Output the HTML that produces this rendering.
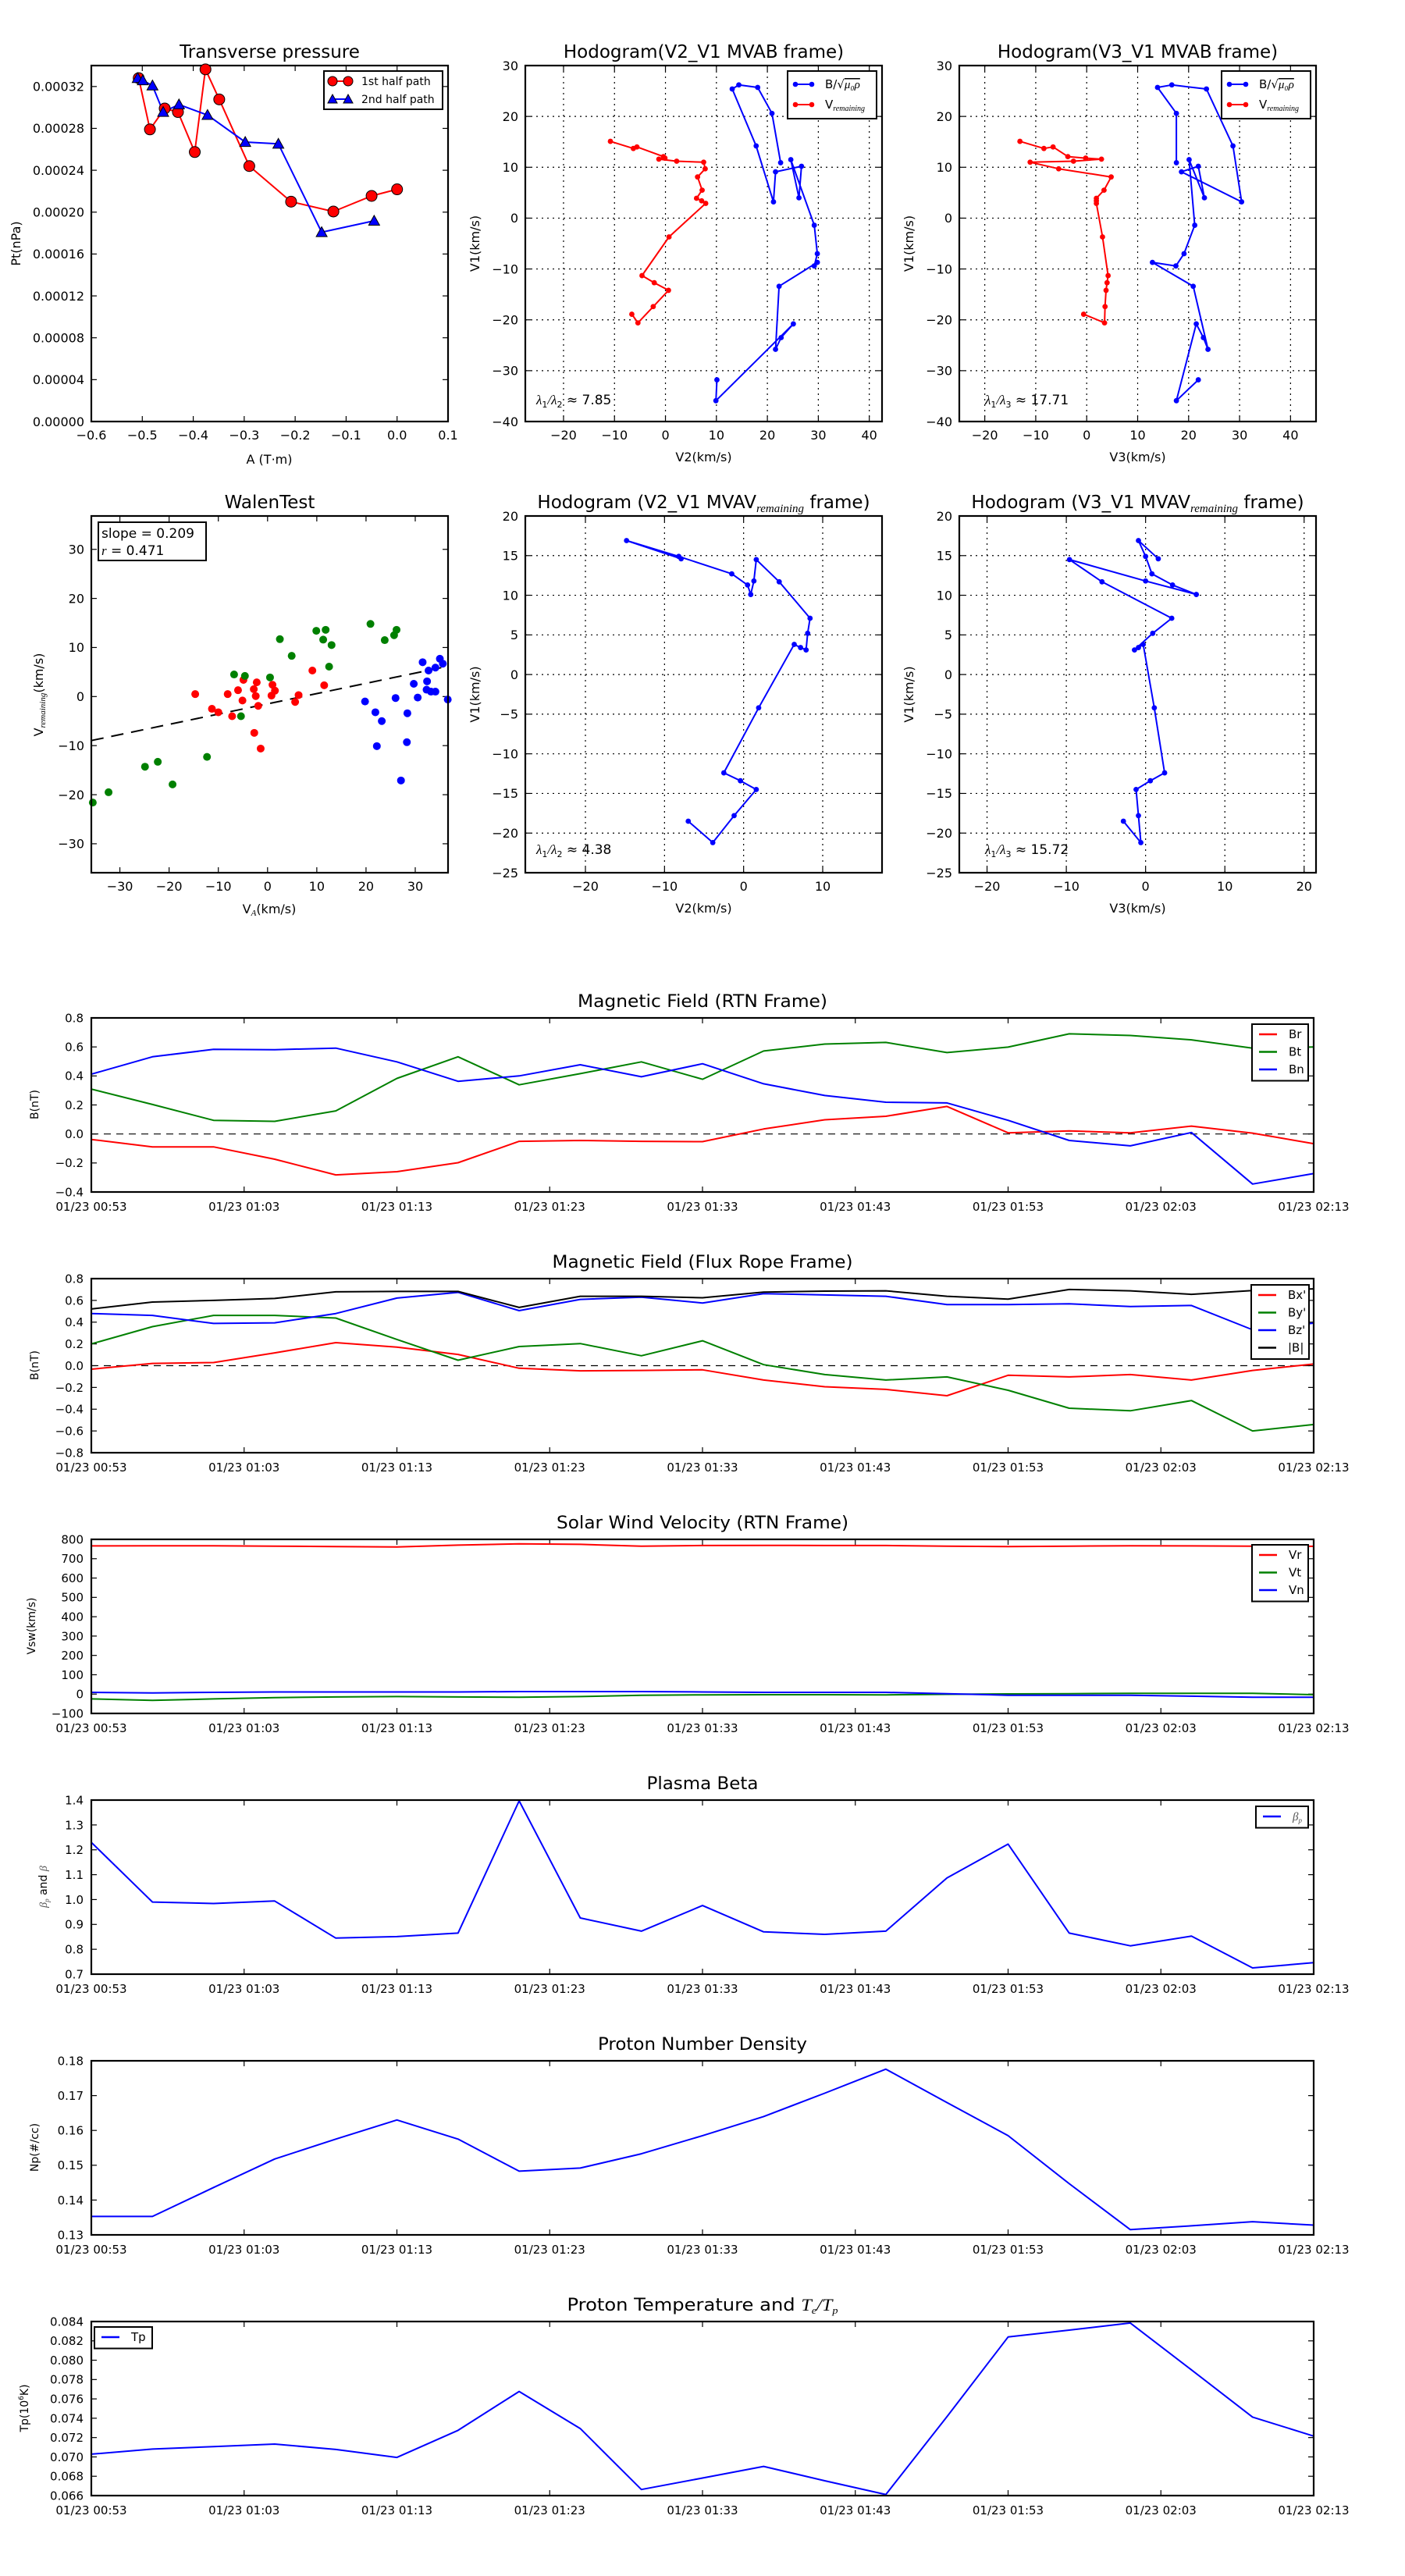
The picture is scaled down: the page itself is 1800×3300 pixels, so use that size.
<!DOCTYPE html>
<html><head><meta charset="utf-8">
<style>
html,body{margin:0;padding:0;background:#fff;}
svg{display:block;font-family:"DejaVu Sans","Liberation Sans",sans-serif;}
</style></head>
<body>
<svg id="fig" width="1800" height="3300" viewBox="0 0 1800 3300" xmlns="http://www.w3.org/2000/svg">
<rect x="0" y="0" width="1800" height="3300" fill="#fff"/>
</svg>
<script>
// ---------- DATA ----------
const ptRedA = [-0.507,-0.485,-0.456,-0.430,-0.397,-0.376,-0.349,-0.290,-0.208,-0.125,-0.050,0.000];
const ptRedP = [0.000328,0.000279,0.000299,0.0002956,0.0002574,0.0003364,0.0003077,0.000244,0.000210,0.0002006,0.0002155,0.0002218];
const ptBlueA = [-0.509,-0.499,-0.480,-0.459,-0.428,-0.372,-0.298,-0.233,-0.148,-0.045];
const ptBlueP = [0.000328,0.0003258,0.0003209,0.0002956,0.0003028,0.0002927,0.0002669,0.0002652,0.0001808,0.0001917];
const ptXTicks = [-0.6,-0.5,-0.4,-0.3,-0.2,-0.1,0.0,0.1];
const ptXLabels = ["−0.6","−0.5","−0.4","−0.3","−0.2","−0.1","0.0","0.1"];
const ptYTicks = [0,0.00004,0.00008,0.00012,0.00016,0.00020,0.00024,0.00028,0.00032];
const ptYLabels = ["0.00000","0.00004","0.00008","0.00012","0.00016","0.00020","0.00024","0.00028","0.00032"];

// MVAB hodogram (time-ordered)
const bV1 = [-31.8,-35.9,-20.8,-23.5,-25.8,-13.4,-8.7,-9.4,-7.0,-1.4,11.5,4.0,10.2,9.1,3.2,14.2,25.4,26.2,25.7,20.6,10.9];
const bV2 = [10.1,9.9,25.1,22.7,21.6,22.3,29.8,29.2,29.8,29.2,24.6,26.2,26.7,21.6,21.2,17.8,13.1,14.4,18.1,20.9,22.6];
const bV3 = [21.9,17.6,21.5,22.9,23.8,20.9,12.9,17.5,19.1,21.2,20.1,23.1,21.9,18.6,30.4,28.7,23.5,16.7,13.9,17.6,17.6];
const vV1 = [-18.9,-20.6,-17.4,-14.2,-12.7,-11.3,-3.7,2.9,3.4,3.9,5.5,8.1,9.7,11.0,11.2,11.6,11.8,12.1,14.0,13.7,15.1];
const vV2 = [-6.6,-5.4,-2.4,0.6,-2.2,-4.6,0.7,7.9,7.1,6.1,7.2,6.3,7.8,7.5,2.2,-1.3,-0.1,-0.4,-5.6,-6.3,-10.8];
const vV3 = [-0.6,3.5,3.6,3.8,4.0,4.2,3.1,1.9,1.9,1.9,3.4,4.8,-5.5,-11.1,-2.6,2.9,-0.2,-3.7,-6.6,-8.4,-13.1];
const hodoXTicks = [-20,-10,0,10,20,30,40];
const hodoYTicks = [-40,-30,-20,-10,0,10,20,30];

// MVAV hodogram
const mV1 = [-18.5,-21.2,-17.8,-14.5,-13.4,-12.4,-4.2,3.8,3.4,3.1,5.2,7.1,11.7,14.5,11.8,10.1,11.3,12.7,14.9,16.9,14.6];
const mV2 = [-7.0,-3.9,-1.2,1.6,-0.4,-2.5,1.9,6.4,7.2,7.9,8.1,8.4,4.5,1.6,1.3,0.9,0.5,-1.5,-8.2,-14.8,-7.9];
const mV3 = [-2.8,-0.6,-0.9,-1.2,0.6,2.4,1.1,-0.3,-0.9,-1.4,0.9,3.3,-5.5,-9.6,0.0,6.4,3.4,0.8,0.0,-0.9,1.6];
const mvXTicks2 = [-20,-10,0,10];
const mvXTicks3 = [-20,-10,0,10,20];
const mvYTicks = [-25,-20,-15,-10,-5,0,5,10,15,20];

// Walen test
const wRedX = [-14.7,-11.3,-10.0,-8.1,-7.2,-6.0,-5.1,-4.9,-2.8,-2.7,-2.4,-2.2,-1.9,-1.4,0.8,1.0,1.5,5.6,6.3,9.1,11.5];
const wRedY = [0.5,-2.5,-3.2,0.5,-4.0,1.3,-0.8,3.4,1.5,-7.4,0.1,2.9,-1.9,-10.6,0.2,2.4,1.2,-1.1,0.3,5.3,2.3];
const wGreenX = [-35.5,-32.3,-24.9,-22.3,-19.3,-12.3,-6.8,-5.4,-4.6,0.5,2.5,4.9,9.9,11.3,11.8,12.5,13.0,20.9,23.8,25.7,26.2];
const wGreenY = [-21.6,-19.5,-14.3,-13.3,-17.9,-12.3,4.5,-4.0,4.2,3.9,11.7,8.3,13.4,11.6,13.6,6.1,10.5,14.8,11.5,12.5,13.6];
const wBlueX = [19.8,21.9,22.2,23.2,26.0,27.1,28.3,28.4,29.7,30.5,31.5,32.4,32.3,32.7,33.2,34.1,34.1,35.0,35.6,36.6];
const wBlueY = [-1.0,-3.2,-10.1,-5.0,-0.3,-17.1,-9.3,-3.4,2.6,-0.2,7.0,3.1,1.4,5.3,1.0,5.9,1.0,7.7,6.7,-0.6];
const wSlope = [0.209];
const wIntercept = [-1.48];
const wXTicks = [-30,-20,-10,0,10,20,30];
const wYTicks = [-30,-20,-10,0,10,20,30];

// Time series (minutes since 00:53)
const tMinutes = [0,4,8,12,16,20,24,28,32,36,40,44,48,52,56,60,64,68,72,76,80];
const timeTicks = [0,10,20,30,40,50,60,70,80];
const timeLabels = ["01/23 00:53","01/23 01:03","01/23 01:13","01/23 01:23","01/23 01:33","01/23 01:43","01/23 01:53","01/23 02:03","01/23 02:13"];
const Br = [-0.038,-0.089,-0.089,-0.174,-0.282,-0.260,-0.198,-0.051,-0.045,-0.051,-0.053,0.034,0.098,0.122,0.190,0.008,0.021,0.008,0.054,0.006,-0.067];
const Bt = [0.309,0.203,0.094,0.087,0.159,0.383,0.532,0.339,0.416,0.497,0.377,0.572,0.620,0.631,0.561,0.599,0.690,0.679,0.649,0.592,0.600];
const Bn = [0.412,0.532,0.583,0.581,0.592,0.497,0.363,0.400,0.477,0.394,0.484,0.346,0.265,0.219,0.214,0.094,-0.045,-0.082,0.010,-0.345,-0.273];
const rtnYTicks = [-0.4,-0.2,0.0,0.2,0.4,0.6,0.8];
const rtnYLabels = ["−0.4","−0.2","0.0","0.2","0.4","0.6","0.8"];
const Bxp = [-0.032,0.021,0.029,0.118,0.212,0.171,0.103,-0.024,-0.047,-0.044,-0.038,-0.132,-0.194,-0.218,-0.276,-0.088,-0.103,-0.082,-0.132,-0.044,0.015];
const Byp = [0.200,0.359,0.462,0.462,0.438,0.241,0.050,0.176,0.203,0.091,0.229,0.009,-0.082,-0.132,-0.103,-0.226,-0.391,-0.415,-0.321,-0.600,-0.541];
const Bzp = [0.479,0.462,0.388,0.394,0.479,0.621,0.674,0.506,0.609,0.629,0.576,0.662,0.650,0.638,0.562,0.562,0.568,0.544,0.553,0.330,0.391];
const Bmag = [0.521,0.585,0.600,0.618,0.679,0.682,0.682,0.535,0.638,0.638,0.624,0.676,0.685,0.688,0.638,0.612,0.700,0.688,0.656,0.691,0.706];
const frYTicks = [-0.8,-0.6,-0.4,-0.2,0.0,0.2,0.4,0.6,0.8];
const frYLabels = ["−0.8","−0.6","−0.4","−0.2","0.0","0.2","0.4","0.6","0.8"];
const Vr = [766,767,767,765,763,761,770,777,774,765,768,769,768,768,765,763,765,767,766,765,764];
const Vt = [-25,-32,-25,-18,-15,-13,-15,-16,-13,-6,-4,-3,-3,-4,-1,1,2,4,4,4,-3];
const Vn = [9,6,9,11,11,11,11,13,13,13,11,9,9,9,2,-6,-6,-6,-11,-16,-16];
const vYTicks = [-100,0,100,200,300,400,500,600,700,800];
const vYLabels = ["−100","0","100","200","300","400","500","600","700","800"];
const beta = [1.230,0.990,0.984,0.994,0.845,0.851,0.865,1.397,0.926,0.873,0.976,0.870,0.860,0.873,1.087,1.223,0.865,0.814,0.853,0.725,0.746];
const bYTicks = [0.7,0.8,0.9,1.0,1.1,1.2,1.3,1.4];
const bYLabels = ["0.7","0.8","0.9","1.0","1.1","1.2","1.3","1.4"];
const Np = [0.1353,0.1353,0.1436,0.1518,0.1575,0.1630,0.1575,0.1483,0.1492,0.1533,0.1585,0.1640,0.1707,0.1776,0.1680,0.1585,0.1447,0.1315,0.1326,0.1338,0.1328];
const nYTicks = [0.13,0.14,0.15,0.16,0.17,0.18];
const nYLabels = ["0.13","0.14","0.15","0.16","0.17","0.18"];
const Tp = [0.07029,0.07081,0.07107,0.07133,0.07077,0.06995,0.07275,0.07677,0.07293,0.06663,0.06782,0.06902,0.06753,0.06611,0.07416,0.08240,0.08311,0.08385,0.07900,0.07412,0.07215];
const tYTicks = [0.066,0.068,0.070,0.072,0.074,0.076,0.078,0.080,0.082,0.084];
const tYLabels = ["0.066","0.068","0.070","0.072","0.074","0.076","0.078","0.080","0.082","0.084"];

// ---------- HELPERS ----------
const NS = 'http://www.w3.org/2000/svg';
const svg = document.getElementById('fig');
function mk(tag, attrs, parent) {
  const e = document.createElementNS(NS, tag);
  for (const k in attrs) e.setAttribute(k, attrs[k]);
  (parent || svg).appendChild(e);
  return e;
}
function text(str, x, y, size, anchor, parent) {
  const t = mk('text', {x: x, y: y, 'font-size': size, 'text-anchor': anchor || 'middle', fill: '#000'}, parent);
  t.textContent = str;
  return t;
}
function scale(d0, d1, r0, r1) { return v => r0 + (v - d0) / (d1 - d0) * (r1 - r0); }

function makeAxes(name, L, R, T, B, x0, x1, y0, y1) {
  const g = mk('g', {});
  
  
  return {g: g, L: L, R: R, T: T, B: B, sx: scale(x0, x1, L, R), sy: scale(y0, y1, B, T)};
}
function frame(ax) {
  const r = mk('rect', {x: ax.L, y: ax.T, width: ax.R - ax.L, height: ax.B - ax.T, fill: 'none', stroke: '#000', 'stroke-width': 2.2}, ax.g);
  
  
}
function xTicks(ax, vals, labels, size, grid, dy) {
  vals.forEach((v, i) => {
    const x = ax.sx(v);
    if (grid) {
      const gl = mk('line', {x1: x, x2: x, y1: ax.T, y2: ax.B, stroke: '#000', 'stroke-width': 1.2, 'stroke-dasharray': '2,5'}, ax.g);
      
      
    }
    const t1 = mk('line', {x1: x, x2: x, y1: ax.B, y2: ax.B - 7, stroke: '#000', 'stroke-width': 1.2}, ax.g);
    
    
    const t2 = mk('line', {x1: x, x2: x, y1: ax.T, y2: ax.T + 7, stroke: '#000', 'stroke-width': 1.2}, ax.g);
    
    
    const lb = text(labels[i], x, ax.B + dy, size, 'middle', ax.g);
    
    
  });
}
function yTicks(ax, vals, labels, size, grid, dx) {
  vals.forEach((v, i) => {
    const y = ax.sy(v);
    if (grid) {
      const gl = mk('line', {x1: ax.L, x2: ax.R, y1: y, y2: y, stroke: '#000', 'stroke-width': 1.2, 'stroke-dasharray': '2,5'}, ax.g);
      
      
    }
    const t1 = mk('line', {x1: ax.L, x2: ax.L + 7, y1: y, y2: y, stroke: '#000', 'stroke-width': 1.2}, ax.g);
    
    
    const t2 = mk('line', {x1: ax.R, x2: ax.R - 7, y1: y, y2: y, stroke: '#000', 'stroke-width': 1.2}, ax.g);
    
    
    const lb = text(labels[i], ax.L - dx, y + size * 0.36, size, 'end', ax.g);
    
    
  });
}
function polyline(ax, xs, ys, color, w) {
  const pts = xs.map((x, i) => ax.sx(x).toFixed(1) + ',' + ax.sy(ys[i]).toFixed(1)).join(' ');
  return mk('polyline', {points: pts, fill: 'none', stroke: color, 'stroke-width': w, 'stroke-linejoin': 'round'}, ax.g);
}
function dots(ax, xs, ys, color, r, stroke) {
  const g = mk('g', {}, ax.g);
  xs.forEach((x, i) => {
    const c = mk('circle', {cx: ax.sx(x), cy: ax.sy(ys[i]), r: r, fill: color, stroke: stroke || 'none', 'stroke-width': 1}, g);
    
    
  });
  return g;
}
function tris(ax, xs, ys, color, s) {
  const g = mk('g', {}, ax.g);
  xs.forEach((x, i) => {
    const cx = ax.sx(x), cy = ax.sy(ys[i]);
    const p = mk('polygon', {points: `${cx},${cy - s} ${cx - s},${cy + s * 0.8} ${cx + s},${cy + s * 0.8}`, fill: color, stroke: '#000', 'stroke-width': 1}, g);
    
    
  });
  return g;
}
function title(ax, str, y, size) {
  const t = text(str, (ax.L + ax.R) / 2, y, size, 'middle', ax.g);
  
  
  return t;
}

// ---------- PANEL 1: Transverse pressure ----------
(function(){
  const ax = makeAxes('transverse-pressure-chart', 117, 574, 84, 540, -0.6, 0.1, 0, 0.00034);
  frame(ax);
  xTicks(ax, ptXTicks, ptXLabels, 16, false, 23);
  yTicks(ax, ptYTicks, ptYLabels, 16, false, 9);
  const l1 = polyline(ax, ptRedA, ptRedP, '#ff0000', 2);
  
  
  const l2 = polyline(ax, ptBlueA, ptBlueP, '#0000ff', 2);
  
  
  const d1 = dots(ax, ptRedA, ptRedP, '#ff0000', 7, '#000');
  
  
  const d2 = tris(ax, ptBlueA, ptBlueP, '#0000ff', 7);
  
  
  title(ax, 'Transverse pressure', 74, 23);
  const xl = text('A (T·m)', 345, 594, 16, 'middle', ax.g);
  
  
  const yl = text('Pt(nPa)', 0, 0, 16, 'middle', ax.g);
  yl.setAttribute('transform', 'translate(26,312) rotate(-90)');
  
  
  const lg = mk('g', {}, ax.g);
  
  
  mk('rect', {x: 415, y: 91, width: 152, height: 49, fill: '#fff', stroke: '#000', 'stroke-width': 2}, lg);
  mk('line', {x1: 426, x2: 446, y1: 104, y2: 104, stroke: '#ff0000', 'stroke-width': 2}, lg);
  mk('circle', {cx: 426, cy: 104, r: 6, fill: '#ff0000', stroke: '#000'}, lg);
  mk('circle', {cx: 446, cy: 104, r: 6, fill: '#ff0000', stroke: '#000'}, lg);
  const e1 = text('1st half path', 463, 109, 14, 'start', lg);
  
  
  mk('line', {x1: 426, x2: 446, y1: 127, y2: 127, stroke: '#0000ff', 'stroke-width': 2}, lg);
  mk('polygon', {points: '426,121 420,132 432,132', fill: '#0000ff', stroke: '#000'}, lg);
  mk('polygon', {points: '446,121 440,132 452,132', fill: '#0000ff', stroke: '#000'}, lg);
  const e2 = text('2nd half path', 463, 132, 14, 'start', lg);
  
  
})();

// ---------- HODOGRAM HELPER ----------
function hodoLegend(ax, x, twoEntries) {
  const lg = mk('g', {}, ax.g);
  
  
  mk('rect', {x: x, y: 91, width: 114, height: 61, fill: '#fff', stroke: '#000', 'stroke-width': 2}, lg);
  mk('line', {x1: x + 10, x2: x + 31, y1: 108, y2: 108, stroke: '#0000ff', 'stroke-width': 2}, lg);
  mk('circle', {cx: x + 10, cy: 108, r: 3.3, fill: '#0000ff'}, lg);
  mk('circle', {cx: x + 31, cy: 108, r: 3.3, fill: '#0000ff'}, lg);
  const t1 = text('', x + 48, 113, 15, 'start', lg);
  t1.innerHTML = 'B/√<tspan font-style="italic" font-family="Liberation Serif" text-decoration="overline">μ₀ρ</tspan>';
  
  
  mk('line', {x1: x + 10, x2: x + 31, y1: 134, y2: 134, stroke: '#ff0000', 'stroke-width': 2}, lg);
  mk('circle', {cx: x + 10, cy: 134, r: 3.3, fill: '#ff0000'}, lg);
  mk('circle', {cx: x + 31, cy: 134, r: 3.3, fill: '#ff0000'}, lg);
  const t2 = text('', x + 48, 139, 15, 'start', lg);
  t2.innerHTML = 'V<tspan font-size="10" font-style="italic" font-family="Liberation Serif" dy="3">remaining</tspan>';
  
  
}
function axisTitles(ax, xlab, xy, ylabX) {
  const xl = text(xlab, (ax.L + ax.R) / 2, xy, 16, 'middle', ax.g);
  
  
  const yl = text('V1(km/s)', 0, 0, 16, 'middle', ax.g);
  yl.setAttribute('transform', `translate(${ylabX},${(ax.T + ax.B) / 2}) rotate(-90)`);
  
  
}
function lambdaText(ax, x, y, sub, val) {
  const t = text('', x, y, 17, 'start', ax.g);
  t.innerHTML = '<tspan font-family="Liberation Serif" font-style="italic">λ</tspan><tspan font-size="11" dy="4">1</tspan><tspan dy="-4" font-family="Liberation Serif" font-style="italic">/λ</tspan><tspan font-size="11" dy="4">' + sub + '</tspan><tspan dy="-4"> ≈ ' + val + '</tspan>';
  
  
}
function series(ax, xs, ys, color, r, name) {
  const l = polyline(ax, xs, ys, color, 2);
  
  
  const d = dots(ax, xs, ys, color, r);
  
  
}
const hx = hodoXTicks.map(v => v < 0 ? '−' + (-v) : String(v));
const hy = hodoYTicks.map(v => v < 0 ? '−' + (-v) : String(v));

// ---------- PANEL 2: Hodogram V2_V1 MVAB ----------
(function(){
  const ax = makeAxes('hodogram-v2-v1-mvab-chart', 673, 1130, 84, 540, -27.5, 42.5, -40, 30);
  xTicks(ax, hodoXTicks, hx, 16, true, 23);
  yTicks(ax, hodoYTicks, hy, 16, true, 9);
  series(ax, bV2, bV1, '#0000ff', 3.4, 'b-alfven-series');
  series(ax, vV2, vV1, '#ff0000', 3.4, 'v-remaining-series');
  frame(ax);
  title(ax, 'Hodogram(V2_V1 MVAB frame)', 74, 23);
  axisTitles(ax, 'V2(km/s)', 591, 614);
  lambdaText(ax, 687, 518, '2', '7.85');
  hodoLegend(ax, 1009);
})();

// ---------- PANEL 3: Hodogram V3_V1 MVAB ----------
(function(){
  const ax = makeAxes('hodogram-v3-v1-mvab-chart', 1229, 1686, 84, 540, -25, 45, -40, 30);
  xTicks(ax, hodoXTicks, hx, 16, true, 23);
  yTicks(ax, hodoYTicks, hy, 16, true, 9);
  series(ax, bV3, bV1, '#0000ff', 3.4, 'b-alfven-series');
  series(ax, vV3, vV1, '#ff0000', 3.4, 'v-remaining-series');
  frame(ax);
  title(ax, 'Hodogram(V3_V1 MVAB frame)', 74, 23);
  axisTitles(ax, 'V3(km/s)', 591, 1170);
  lambdaText(ax, 1262, 518, '3', '17.71');
  hodoLegend(ax, 1565);
})();

// ---------- PANEL 4: Walen test ----------
(function(){
  const ax = makeAxes('walen-test-chart', 117, 574, 661, 1118, -35.8, 36.66, -35.9, 36.8);
  xTicks(ax, wXTicks, wXTicks.map(v => v < 0 ? '−' + (-v) : String(v)), 16, false, 23);
  yTicks(ax, wYTicks, wYTicks.map(v => v < 0 ? '−' + (-v) : String(v)), 16, false, 9);
  const fx = [-35.8, 36.66];
  const fl = polyline(ax, fx, fx.map(x => wSlope[0] * x + wIntercept[0]), '#000', 2);
  fl.setAttribute('stroke-dasharray', '16,10');
  
  
  const g1 = dots(ax, wRedX, wRedY, '#ff0000', 5);
  
  
  const g2 = dots(ax, wGreenX, wGreenY, '#008000', 5);
  
  
  const g3 = dots(ax, wBlueX, wBlueY, '#0000ff', 5);
  
  
  frame(ax);
  title(ax, 'WalenTest', 651, 23);
  const xl = text('', 345, 1170, 16, 'middle', ax.g);
  xl.innerHTML = 'V<tspan font-size="11" font-style="italic" font-family="Liberation Serif" dy="3">A</tspan><tspan dy="-3">(km/s)</tspan>';
  
  
  const yl = text('', 0, 0, 16, 'middle', ax.g);
  yl.innerHTML = 'V<tspan font-size="11" font-style="italic" font-family="Liberation Serif" dy="3">remaining</tspan><tspan dy="-3">(km/s)</tspan>';
  yl.setAttribute('transform', 'translate(55,890) rotate(-90)');
  
  
  const bx = mk('g', {}, ax.g);
  
  
  mk('rect', {x: 126, y: 669, width: 138, height: 49, fill: '#fff', stroke: '#000', 'stroke-width': 2}, bx);
  text('slope = 0.209', 130, 689, 17, 'start', bx);
  const r2 = text('', 130, 711, 17, 'start', bx);
  r2.innerHTML = '<tspan font-style="italic" font-family="Liberation Serif">r</tspan> = 0.471';
})();

// ---------- PANEL 5/6: MVAV hodograms ----------
(function(){
  const ax = makeAxes('hodogram-v2-v1-mvav-chart', 673, 1130, 661, 1118, -27.6, 17.5, -25, 20);
  xTicks(ax, mvXTicks2, mvXTicks2.map(v => v < 0 ? '−' + (-v) : String(v)), 16, true, 23);
  yTicks(ax, mvYTicks, mvYTicks.map(v => v < 0 ? '−' + (-v) : String(v)), 16, true, 9);
  series(ax, mV2, mV1, '#0000ff', 3.4, 'mvav-series');
  frame(ax);
  const t = title(ax, '', 651, 23);
  t.innerHTML = 'Hodogram (V2_V1 MVAV<tspan font-size="15" font-style="italic" font-family="Liberation Serif" dy="5">remaining</tspan><tspan dy="-5"> frame)</tspan>';
  axisTitles(ax, 'V2(km/s)', 1169, 614);
  lambdaText(ax, 687, 1094, '2', '4.38');
})();
(function(){
  const ax = makeAxes('hodogram-v3-v1-mvav-chart', 1229, 1686, 661, 1118, -23.5, 21.5, -25, 20);
  xTicks(ax, mvXTicks3, mvXTicks3.map(v => v < 0 ? '−' + (-v) : String(v)), 16, true, 23);
  yTicks(ax, mvYTicks, mvYTicks.map(v => v < 0 ? '−' + (-v) : String(v)), 16, true, 9);
  series(ax, mV3, mV1, '#0000ff', 3.4, 'mvav-series');
  frame(ax);
  const t = title(ax, '', 651, 23);
  t.innerHTML = 'Hodogram (V3_V1 MVAV<tspan font-size="15" font-style="italic" font-family="Liberation Serif" dy="5">remaining</tspan><tspan dy="-5"> frame)</tspan>';
  axisTitles(ax, 'V3(km/s)', 1169, 1170);
  lambdaText(ax, 1262, 1094, '3', '15.72');
})();

// ---------- TIME SERIES ----------
function timePanel(name, T, y0, y1, yt, yl, titleStr, titleW, ylabHTML, ylabX) {
  const ax = makeAxes(name, 117, 1683, T, T + 223, 0, 80, y0, y1);
  xTicks(ax, timeTicks, timeLabels, 15, false, 24);
  yTicks(ax, yt, yl, 15, false, 10);
  const t = title(ax, '', T - 14, 22);
  t.innerHTML = titleStr;
  t.setAttribute('textLength', titleW);
  t.setAttribute('lengthAdjust', 'spacingAndGlyphs');
  const ylab = text('', 0, 0, 14, 'middle', ax.g);
  ylab.innerHTML = ylabHTML;
  ylab.setAttribute('transform', `translate(${ylabX},${T + 111}) rotate(-90)`);
  
  
  return ax;
}
function tline(ax, ys, color, name) {
  const l = polyline(ax, tMinutes, ys, color, 2);
  
  
}
function zeroLine(ax) {
  const z = mk('line', {x1: ax.L, x2: ax.R, y1: ax.sy(0), y2: ax.sy(0), stroke: '#000', 'stroke-width': 1.2, 'stroke-dasharray': '9,7'}, ax.g);
  
  
}
function tLegend(ax, x, y, w, entries) {
  const lg = mk('g', {}, ax.g);
  
  
  mk('rect', {x: x, y: y, width: w, height: entries.length * 22.5 + 5, fill: '#fff', stroke: '#000', 'stroke-width': 2}, lg);
  entries.forEach((e, i) => {
    const cy = y + 13 + i * 22.5;
    mk('line', {x1: x + 9, x2: x + 32, y1: cy, y2: cy, stroke: e[1], 'stroke-width': 2.5}, lg);
    const t = text('', x + 47, cy + 5, 15, 'start', lg);
    t.innerHTML = e[0];
    
    
  });
}

(function(){
  const ax = timePanel('magnetic-field-rtn-chart', 1304, -0.4, 0.8, rtnYTicks, rtnYLabels, 'Magnetic Field (RTN Frame)', 320, 'B(nT)', 49);
  zeroLine(ax);
  tline(ax, Br, '#ff0000', 'br-line');
  tline(ax, Bt, '#008000', 'bt-line');
  tline(ax, Bn, '#0000ff', 'bn-line');
  frame(ax);
  tLegend(ax, 1604, 1312, 72, [['Br', '#ff0000'], ['Bt', '#008000'], ['Bn', '#0000ff']]);
})();
(function(){
  const ax = timePanel('magnetic-field-flux-rope-chart', 1638, -0.8, 0.8, frYTicks, frYLabels, 'Magnetic Field (Flux Rope Frame)', 385, 'B(nT)', 49);
  zeroLine(ax);
  tline(ax, Bxp, '#ff0000', 'bx-prime-line');
  tline(ax, Byp, '#008000', 'by-prime-line');
  tline(ax, Bzp, '#0000ff', 'bz-prime-line');
  tline(ax, Bmag, '#000000', 'b-magnitude-line');
  frame(ax);
  tLegend(ax, 1603, 1646, 74, [["Bx'", '#ff0000'], ["By'", '#008000'], ["Bz'", '#0000ff'], ['|B|', '#000000']]);
})();
(function(){
  const ax = timePanel('solar-wind-velocity-chart', 1972, -100, 800, vYTicks, vYLabels, 'Solar Wind Velocity (RTN Frame)', 374, 'Vsw(km/s)', 45);
  tline(ax, Vr, '#ff0000', 'vr-line');
  tline(ax, Vt, '#008000', 'vt-line');
  tline(ax, Vn, '#0000ff', 'vn-line');
  frame(ax);
  tLegend(ax, 1604, 1979, 72, [['Vr', '#ff0000'], ['Vt', '#008000'], ['Vn', '#0000ff']]);
})();
(function(){
  const ax = timePanel('plasma-beta-chart', 2306, 0.7, 1.4, bYTicks, bYLabels, 'Plasma Beta', 143, '<tspan font-style="italic" font-family="Liberation Serif" fill="#555">β<tspan font-size="9" dy="3">p</tspan></tspan><tspan dy="-3"> and </tspan><tspan font-style="italic" font-family="Liberation Serif" fill="#555">β</tspan>', 60);
  tline(ax, beta, '#0000ff', 'beta-line');
  frame(ax);
  tLegend(ax, 1609, 2314, 67, [['<tspan font-style="italic" font-family="Liberation Serif" fill="#555">β<tspan font-size="9" dy="3">p</tspan></tspan>', '#0000ff']]);
})();
(function(){
  const ax = timePanel('proton-density-chart', 2640, 0.13, 0.18, nYTicks, nYLabels, 'Proton Number Density', 268, 'Np(#/cc)', 49);
  tline(ax, Np, '#0000ff', 'np-line');
  frame(ax);
})();
(function(){
  const ax = timePanel('proton-temperature-chart', 2974, 0.066, 0.084, tYTicks, tYLabels, 'Proton Temperature and <tspan font-style="italic" font-family="Liberation Serif">T<tspan font-size="13" dy="4">e</tspan><tspan dy="-4">/T</tspan><tspan font-size="13" dy="4">p</tspan></tspan>', 347, 'Tp(10<tspan font-size="9" dy="-6">6</tspan><tspan dy="6">K)</tspan>', 36);
  tline(ax, Tp, '#0000ff', 'tp-line');
  frame(ax);
  tLegend(ax, 121, 2981, 74, [['Tp', '#0000ff']]);
})();
</script>
</body></html>
